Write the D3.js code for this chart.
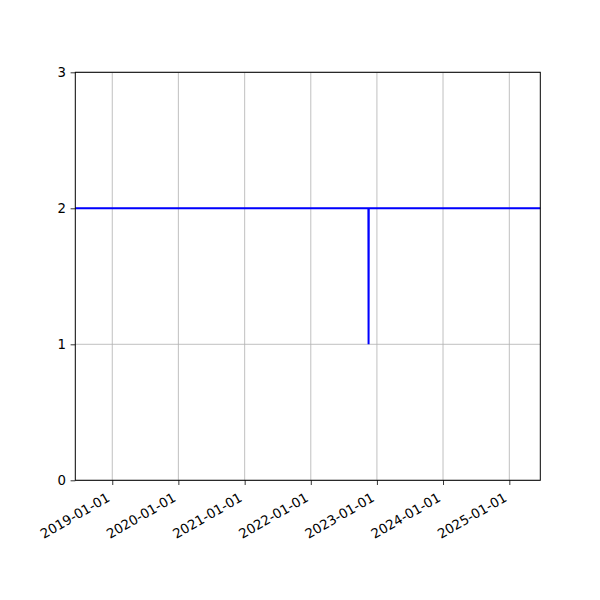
<!DOCTYPE html>
<html>
<head>
<meta charset="utf-8">
<script src="https://cdn.jsdelivr.net/npm/d3@7"></script>
<style>
  body { margin: 0; background: #fff; }
  text { font-family: "DejaVu Sans", sans-serif; }
</style>
</head>
<body>
<div id="chart"></div>
<script>
// series
const dates = ["2018-06-11", "2022-11-15", "2022-11-16", "2022-11-17", "2025-06-21"];
const values = [2, 2, 1, 2, 2];

// axes setup
const xTickDates = ["2019-01-01", "2020-01-01", "2021-01-01", "2022-01-01", "2023-01-01", "2024-01-01", "2025-01-01"];
const yTicks = [0, 1, 2, 3];
const xLimits = ["2018-06-11", "2025-06-21"];
const yLimits = [0, 3];

const parse = d3.utcParse("%Y-%m-%d");
const fmt = d3.utcFormat("%Y-%m-%d");

const width = 600, height = 600;
const margin = { top: 72.3, right: 59.7, bottom: 119.7, left: 75.3 };

const svg = d3.select("#chart").append("svg")
  .attr("width", width)
  .attr("height", height);

const x = d3.scaleUtc()
  .domain(xLimits.map(parse))
  .range([margin.left, width - margin.right]);

const y = d3.scaleLinear()
  .domain(yLimits)
  .range([height - margin.bottom, margin.top]);

// grid
svg.append("g").selectAll("line.vx")
  .data(xTickDates.map(parse))
  .enter().append("line")
  .attr("x1", d => x(d)).attr("x2", d => x(d))
  .attr("y1", margin.top).attr("y2", height - margin.bottom)
  .style("stroke", "#b0b0b0").style("stroke-width", 0.8);

svg.append("g").selectAll("line.hy")
  .data(yTicks)
  .enter().append("line")
  .attr("x1", margin.left).attr("x2", width - margin.right)
  .attr("y1", d => y(d)).attr("y2", d => y(d))
  .style("stroke", "#b0b0b0").style("stroke-width", 0.8);

// the line
const pts = dates.map((d, i) => [parse(d), values[i]]);
svg.append("path")
  .datum(pts)
  .attr("d", d3.line().x(d => x(d[0])).y(d => y(d[1])))
  .style("fill", "none")
  .style("stroke", "#0000ff")
  .style("stroke-width", 2);

// axes
const xAxis = svg.append("g")
  .attr("transform", `translate(0,${height - margin.bottom})`)
  .call(d3.axisBottom(x).tickValues(xTickDates.map(parse)).tickFormat(fmt).tickSizeOuter(0).tickSize(4.7).tickPadding(3));
xAxis.select(".domain").remove();
xAxis.selectAll("text")
  .style("font-size", "13.3px")
  .style("fill", "#000")
  .attr("text-anchor", "end")
  .attr("dy", null)
  .attr("y", 0)
  .attr("transform", "translate(-2,20) rotate(-30)");
xAxis.selectAll(".tick line").style("stroke", "#000").style("stroke-width", 0.8);

const yAxis = svg.append("g")
  .attr("transform", `translate(${margin.left},0)`)
  .call(d3.axisLeft(y).tickValues(yTicks).tickFormat(d3.format("d")).tickSize(4.7).tickPadding(4.7));
yAxis.select(".domain").remove();
yAxis.selectAll("text").style("font-size", "13.3px").style("fill", "#000");
yAxis.selectAll(".tick line").style("stroke", "#000").style("stroke-width", 0.8);

// frame
svg.append("rect")
  .attr("x", margin.left).attr("y", margin.top)
  .attr("width", width - margin.left - margin.right)
  .attr("height", height - margin.top - margin.bottom)
  .style("fill", "none").style("stroke", "#000").style("stroke-width", 1);
</script>
</body>
</html>
